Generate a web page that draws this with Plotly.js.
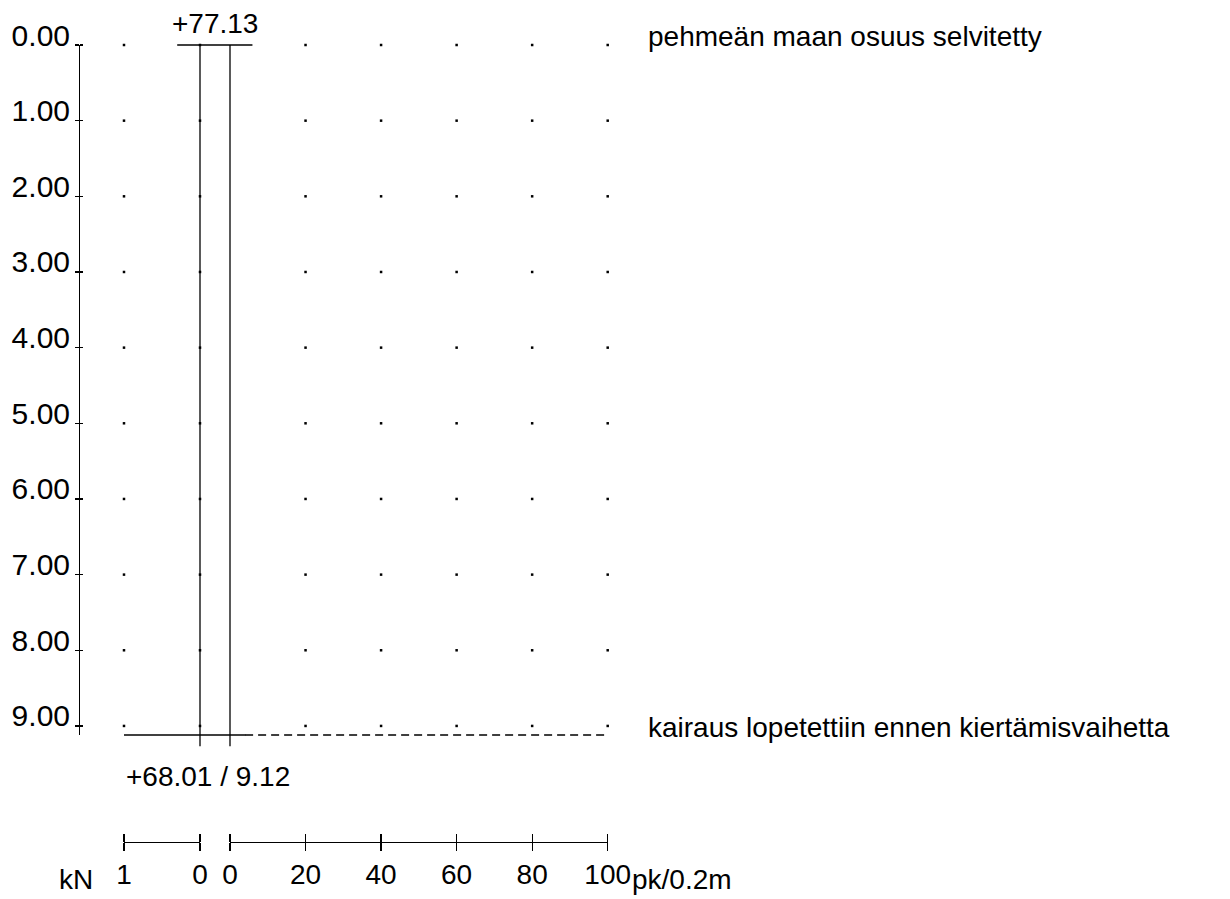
<!DOCTYPE html>
<html>
<head>
<meta charset="utf-8">
<script src="https://cdn.plot.ly/plotly-3.0.1.min.js"></script>
<style>html,body{margin:0;padding:0;background:#fff}</style>
</head>
<body>
<div id="chart" style="width:1230px;height:899px"></div>
<script>
// ---------------- data ----------------
const GROUND_LEVEL = 77.13;          // m, elevation at start
const END_DEPTH = 9.12;              // m, depth where sounding stopped
const DEPTH_TICKS = [0, 1, 2, 3, 4, 5, 6, 7, 8, 9];
const KN_TICKS = [1, 0];
const PK_TICKS = [0, 20, 40, 60, 80, 100];
const KN_GRID = [1, 0];
const PK_GRID = [20, 40, 60, 80, 100];
const KN_PROFILE = [0, 0];           // load, kN
const PK_PROFILE = [0, 0];           // half turns / 0.2 m
const PROFILE_DEPTH = [0, 9.27];
const START_LINE_KN = [0.3, -0.69];
const END_SOLID_KN = [1, -0.6];
const END_DASH_PK = [4, 100];
const NOTE_TOP = 'pehmeän maan osuus selvitetty';
const NOTE_END = 'kairaus lopetettiin ennen kiertämisvaihetta';

// ---------------- layout calibration ----------------
const W = 1230, H = 899;
const DEPTH_Y0 = 45, PX_PER_M = 75.66;
const KN0_X = 200, PX_PER_KN = 76;
const PK0_X = 230, PX_PER_PK = 3.777;
const YAXIS_X = 79, SCALE_Y = 842;
const fx = p => p / W;
const fy = p => 1 - p / H;

const FAMILY = '"Liberation Sans", Arial, sans-serif';
const font = {family: FAMILY, size: 28, color: '#000'};
const yTickFont = {family: FAMILY, size: 30, color: '#000'};
const LC = '#000';
const lineStyle = {color: LC, width: 1.3};

// grid dots
const knDotX = [], knDotY = [], pkDotX = [], pkDotY = [];
KN_GRID.forEach(v => DEPTH_TICKS.forEach(d => { knDotX.push(v); knDotY.push(d); }));
PK_GRID.forEach(v => DEPTH_TICKS.forEach(d => { pkDotX.push(v); pkDotY.push(d); }));

const dotMarker = {size: 2.5, color: LC, symbol: 'square'};
const base = {hoverinfo: 'skip', showlegend: false};

const traces = [
  Object.assign({x: KN_PROFILE, y: PROFILE_DEPTH, xaxis: 'x2', yaxis: 'y', mode: 'lines', line: lineStyle}, base),
  Object.assign({x: PK_PROFILE, y: PROFILE_DEPTH, xaxis: 'x', yaxis: 'y', mode: 'lines', line: lineStyle}, base),
  Object.assign({x: START_LINE_KN, y: [0, 0], xaxis: 'x2', yaxis: 'y', mode: 'lines', line: lineStyle}, base),
  Object.assign({x: END_SOLID_KN, y: [END_DEPTH, END_DEPTH], xaxis: 'x2', yaxis: 'y', mode: 'lines', line: lineStyle}, base),
  Object.assign({x: END_DASH_PK, y: [END_DEPTH, END_DEPTH], xaxis: 'x', yaxis: 'y', mode: 'lines',
    line: {color: LC, width: 1.3, dash: '8px,5px'}}, base),
  Object.assign({x: knDotX, y: knDotY, xaxis: 'x3', yaxis: 'y2', mode: 'markers', marker: dotMarker, cliponaxis: false}, base),
  Object.assign({x: pkDotX, y: pkDotY, xaxis: 'x5', yaxis: 'y2', mode: 'markers', marker: dotMarker, cliponaxis: false}, base),
  Object.assign({x: [], y: [], xaxis: 'x4', yaxis: 'y2', mode: 'markers'}, base),
  Object.assign({x: [], y: [], xaxis: 'x6', yaxis: 'y2', mode: 'markers'}, base),
  Object.assign({x: [], y: [], xaxis: 'x3', yaxis: 'y3', mode: 'markers'}, base)
];

const hidden = {visible: false, fixedrange: true, showgrid: false, zeroline: false};
const scaleAx = {
  anchor: 'free', position: fy(SCALE_Y), side: 'bottom', showline: true, linecolor: LC, linewidth: 1.3,
  ticks: 'outside', ticklen: 8, tickwidth: 1.3, tickcolor: LC, tickmode: 'array',
  showgrid: false, zeroline: false, tickfont: font, fixedrange: true, ticklabelstandoff: -1
};
const scaleUp = {
  anchor: 'free', position: fy(SCALE_Y), side: 'top', showline: false, ticks: 'outside', ticklen: 8, tickwidth: 1.3,
  tickcolor: LC, tickmode: 'array', showticklabels: false, showgrid: false, zeroline: false, fixedrange: true
};

const layout = {
  width: W, height: H, margin: {l: 0, r: 0, t: 0, b: 0}, showlegend: false,
  paper_bgcolor: '#fff', plot_bgcolor: 'rgba(0,0,0,0)', font: font,
  xaxis: Object.assign({}, hidden, {domain: [0, 1], anchor: 'y',
    range: [(0 - PK0_X) / PX_PER_PK, (W - PK0_X) / PX_PER_PK]}),
  xaxis2: Object.assign({}, hidden, {overlaying: 'x', anchor: 'y',
    range: [(KN0_X - 0) / PX_PER_KN, (KN0_X - W) / PX_PER_KN]}),
  yaxis: Object.assign({}, hidden, {domain: [0, 1], anchor: 'x',
    range: [(H - DEPTH_Y0) / PX_PER_M, (0 - DEPTH_Y0) / PX_PER_M]}),
  xaxis3: Object.assign({}, scaleAx, {domain: [fx(KN0_X - PX_PER_KN), fx(KN0_X)], range: [1, 0], tickvals: KN_TICKS}),
  xaxis4: Object.assign({}, scaleUp, {overlaying: 'x3', range: [1, 0], tickvals: KN_TICKS}),
  xaxis5: Object.assign({}, scaleAx, {domain: [fx(PK0_X), fx(PK0_X + 100 * PX_PER_PK)], range: [0, 100], tickvals: PK_TICKS}),
  xaxis6: Object.assign({}, scaleUp, {overlaying: 'x5', range: [0, 100], tickvals: PK_TICKS}),
  yaxis2: {
    domain: [fy(DEPTH_Y0 + END_DEPTH * PX_PER_M), fy(DEPTH_Y0)], range: [END_DEPTH, 0],
    anchor: 'free', position: fx(YAXIS_X), side: 'left', showline: true, linecolor: LC, linewidth: 1.3,
    ticks: 'outside', ticklen: 4, tickwidth: 1.3, tickcolor: LC, tickmode: 'array', tickvals: DEPTH_TICKS,
    tickformat: '.2f', showgrid: false, zeroline: false, tickfont: yTickFont, fixedrange: true,
    ticklabelstandoff: -1, ticklabelshift: 10
  },
  yaxis3: {
    overlaying: 'y2', range: [END_DEPTH, 0], anchor: 'free', position: fx(YAXIS_X), side: 'right',
    showline: false, ticks: 'outside', ticklen: 3, tickwidth: 1.3, tickcolor: LC, tickmode: 'array',
    tickvals: DEPTH_TICKS, showticklabels: false, showgrid: false, zeroline: false, fixedrange: true
  },
  annotations: [
    {xref: 'x2', x: 0, yref: 'y', y: 0, text: '+' + GROUND_LEVEL.toFixed(2), xanchor: 'center', yanchor: 'bottom',
      xshift: 15, yshift: 4, showarrow: false, font: font},
    {xref: 'x2', x: 1, yref: 'y', y: END_DEPTH,
      text: '+' + (GROUND_LEVEL - END_DEPTH).toFixed(2) + ' / ' + END_DEPTH.toFixed(2),
      xanchor: 'left', yanchor: 'top', xshift: 0, yshift: -24, showarrow: false, font: font},
    {xref: 'x', x: 100, yref: 'y', y: 0, text: NOTE_TOP, xanchor: 'left', yanchor: 'middle',
      xshift: 38, yshift: 9, showarrow: false, font: font},
    {xref: 'x', x: 100, yref: 'y', y: END_DEPTH, text: NOTE_END, xanchor: 'left', yanchor: 'middle',
      xshift: 38, yshift: 8, showarrow: false, font: font},
    {xref: 'x3', x: 1, yref: 'paper', y: fy(SCALE_Y), text: 'kN', xanchor: 'right', yanchor: 'top',
      xshift: -29, yshift: -20, showarrow: false, font: font},
    {xref: 'x5', x: 100, yref: 'paper', y: fy(SCALE_Y), text: 'pk/0.2m', xanchor: 'left', yanchor: 'top',
      xshift: 22, yshift: -20, showarrow: false, font: font}
  ]
};

Plotly.newPlot('chart', traces, layout, {staticPlot: true, displayModeBar: false});
</script>
</body>
</html>
